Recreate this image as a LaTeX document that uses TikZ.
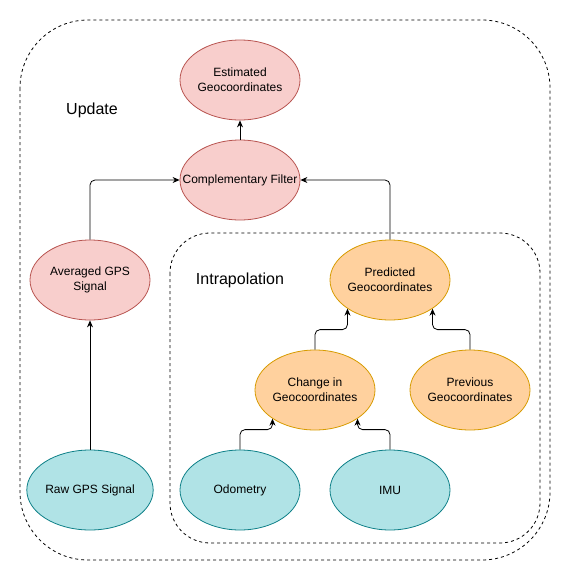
\documentclass[tikz,border=0pt]{standalone}
\usepackage{fontspec}
\setmainfont{Liberation Sans}
\usepackage{tikz}
\usetikzlibrary{arrows.meta,shapes.geometric}

\definecolor{redfill}{HTML}{F8CECC}
\definecolor{redline}{HTML}{B85450}
\definecolor{orangefill}{HTML}{FFD19E}
\definecolor{orangeline}{HTML}{D79B00}
\definecolor{tealfill}{HTML}{B0E3E6}
\definecolor{tealline}{HTML}{0E8088}

\tikzset{
  blob/.style={ellipse,draw,line width=0.8pt,minimum width=120pt,minimum height=80pt,
    inner sep=0pt,align=center,font=\fontsize{12}{15}\selectfont},
  red/.style={blob,fill=redfill,draw=redline},
  orange/.style={blob,fill=orangefill,draw=orangeline},
  teal/.style={blob,fill=tealfill,draw=tealline},
  arr/.style={-{Stealth[length=7pt,width=6pt]},line width=0.8pt,rounded corners=5pt},
  frame/.style={draw,line width=0.8pt,dash pattern=on 3pt off 3pt},
  title/.style={font=\fontsize{16}{19}\selectfont}
}

\begin{document}
\begin{tikzpicture}[x=1pt,y=-1pt]
\useasboundingbox (0,0) rectangle (571,581);
\draw[frame,rounded corners=68pt] (20,20) rectangle (550,560);
\draw[frame,rounded corners=40pt] (170,233) rectangle (540,543);
\node[title] (upd) at (92,110) {Update};
\node[title] (intra) at (240,280) {Intrapolation};

\node[red] (est) at (240,80) {Estimated\\Geocoordinates};
\node[red] (cf) at (240,180) {\makebox[0pt]{Complementary Filter}};
\node[red] (avg) at (90,280) {Averaged GPS\\Signal};
\node[teal] (raw) at (90,490) {Raw GPS Signal};
\node[orange] (pred) at (390,280) {Predicted\\Geocoordinates};
\node[orange] (chg) at (315,390) {Change in\\Geocoordinates};
\node[orange] (prev) at (470,390) {Previous\\Geocoordinates};
\node[teal] (odo) at (240,490) {Odometry};
\node[teal] (imu) at (390,490) {IMU};

\draw[arr] (cf) -- (est);
\draw[arr] (raw) -- (avg);
\draw[arr] (avg.north) |- (cf.west);
\draw[arr] (pred.north) |- (cf.east);
\draw[arr] (chg.north) -- ++(0,-20) -| (pred.-146);
\draw[arr] (prev.north) -- ++(0,-20) -| (pred.-34);
\draw[arr] (odo.north) -- ++(0,-20) -| (chg.-146);
\draw[arr] (imu.north) -- ++(0,-20) -| (chg.-34);
\end{tikzpicture}
\end{document}
